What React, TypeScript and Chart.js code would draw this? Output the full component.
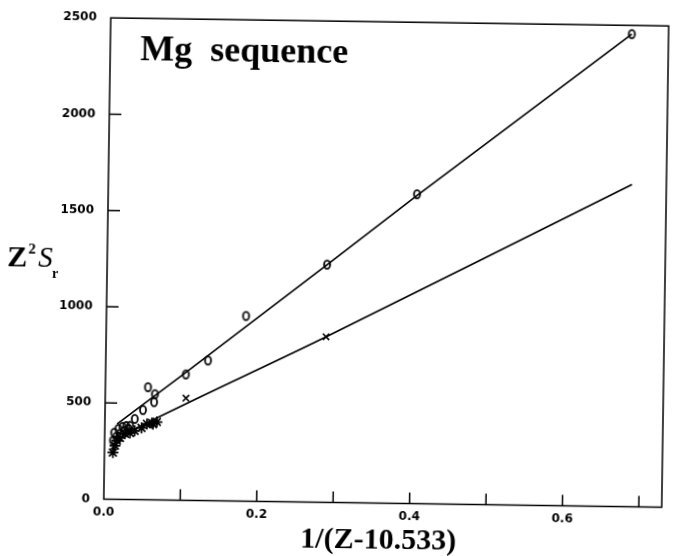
import React, { useEffect, useRef } from 'react';
import { Chart, registerables } from 'chart.js';
Chart.register(...registerables);

// "o" series (upper)
const upperOX = [0.011, 0.0124, 0.015, 0.0177, 0.02, 0.023, 0.0255, 0.028, 0.031, 0.033, 0.039, 0.0496, 0.0557, 0.064, 0.065, 0.105, 0.1337, 0.1826, 0.2877, 0.404, 0.682];
const upperOY = [305, 346, 325, 366, 341, 377, 356, 382, 366, 383, 419, 466, 585, 508, 549, 654, 728, 962, 1235, 1607, 2455];
// "x" series (lower) – isolated crosses
const lowerXX = [0.1056, 0.2877];
const lowerXY = [531, 860];
// lower series – dense asterisk cluster
const starX = [0.0111, 0.0136, 0.016, 0.02, 0.0265, 0.033, 0.039, 0.048, 0.055, 0.0615, 0.063, 0.068];
const starY = [243, 279, 305, 320, 341, 346, 357, 373, 394, 399, 394, 405];
// fitted lines
const upperLineX = [0.016, 0.105, 0.2877, 0.404, 0.682];
const upperLineY = [392, 664, 1234, 1600, 2455];
const lowerLineX = [0.012, 0.02, 0.035, 0.068, 0.167, 0.2877, 0.685];
const lowerLineY = [255, 315, 355, 426, 622, 860, 1674];
// axes
const xMin = 0;
const xMax = 0.73;
const xStep = 0.1;
const yMin = 0;
const yMax = 2500;
const yStep = 500;
const titleText = 'Mg  sequence';
const xAxisTitle = '1/(Z-10.533)';

const zip = (xs: number[], ys: number[]) => xs.map((x, i) => ({ x, y: ys[i] }));

function makeO(): HTMLCanvasElement {
  const c = document.createElement('canvas');
  c.width = 10;
  c.height = 12;
  const g = c.getContext('2d')!;
  g.strokeStyle = '#000';
  g.lineWidth = 1.8;
  g.beginPath();
  g.ellipse(5, 6, 3, 4.1, 0, 0, Math.PI * 2);
  g.stroke();
  return c;
}

const decorPlugin = {
  id: 'decor',
  afterDraw(chart: any) {
    const { ctx, chartArea: a, scales } = chart;
    ctx.save();
    ctx.strokeStyle = '#000';
    ctx.fillStyle = '#000';
    ctx.lineWidth = 1.5;
    ctx.strokeRect(a.left, a.top, a.right - a.left, a.bottom - a.top);
    // inward ticks
    ctx.beginPath();
    scales.x.ticks.forEach((t: any) => {
      if (t.value <= xMin + 1e-9 || t.value >= xMax - 1e-9) return;
      const px = scales.x.getPixelForValue(t.value);
      ctx.moveTo(px, a.bottom);
      ctx.lineTo(px, a.bottom - 11);
    });
    scales.y.ticks.forEach((t: any) => {
      if (t.value <= yMin || t.value >= yMax) return;
      const py = scales.y.getPixelForValue(t.value);
      ctx.moveTo(a.left, py);
      ctx.lineTo(a.left + 12, py);
    });
    ctx.stroke();
    // title
    ctx.textBaseline = 'alphabetic';
    ctx.textAlign = 'left';
    ctx.font = 'bold 36px "Liberation Serif"';
    ctx.fillText(titleText, a.left + 30, a.top + 42);
    // x axis title
    ctx.textAlign = 'center';
    ctx.font = 'bold 30px "Liberation Serif"';
    ctx.fillText(xAxisTitle, (a.left + a.right) / 2 - 4, 548);
    // y axis title Z^2 S_r
    ctx.textAlign = 'left';
    ctx.font = 'bold 30px "Liberation Serif"';
    ctx.fillText('Z', 7, 271);
    ctx.font = 'bold 15px "Liberation Serif"';
    ctx.fillText('2', 28, 258);
    ctx.font = 'italic 29px "Liberation Serif"';
    ctx.fillText('S', 38, 271);
    ctx.font = 'bold 14px "Liberation Serif"';
    ctx.fillText('r', 52, 282);
    ctx.restore();
  },
};

export default function App() {
  const ref = useRef<HTMLCanvasElement>(null);
  useEffect(() => {
    if (!ref.current) return;
    const oImg = makeO();
    const tickFont = { family: '"DejaVu Sans"', size: 12, weight: 'bold' as const };
    const chart = new Chart(ref.current, {
      type: 'scatter',
      data: {
        datasets: [
          {
            data: zip(upperLineX, upperLineY),
            showLine: true,
            borderColor: '#000',
            borderWidth: 1.6,
            pointRadius: 0,
            tension: 0,
          },
          {
            data: zip(lowerLineX, lowerLineY),
            showLine: true,
            borderColor: '#000',
            borderWidth: 1.6,
            pointRadius: 0,
            tension: 0.3,
          },
          {
            data: zip(upperOX, upperOY),
            pointStyle: oImg as any,
            pointRadius: 4,
            borderColor: '#000',
          },
          {
            data: zip(lowerXX, lowerXY),
            pointStyle: 'crossRot',
            pointRadius: 4.5,
            borderWidth: 1.6,
            borderColor: '#000',
          },
          {
            data: zip(starX, starY),
            pointStyle: 'star',
            pointRadius: 5.5,
            borderWidth: 1.7,
            borderColor: '#000',
          },
        ],
      },
      options: {
        animation: false,
        responsive: false,
        layout: { padding: { top: 16, right: 9, left: 0, bottom: 0 } },
        plugins: { legend: { display: false }, tooltip: { enabled: false } },
        scales: {
          x: {
            type: 'linear',
            min: xMin,
            max: xMax,
            grid: { display: false, drawTicks: false },
            border: { display: false },
            ticks: {
              stepSize: xStep,
              includeBounds: false,
              autoSkip: false,
              maxRotation: 0,
              padding: 6,
              color: '#000',
              font: tickFont,
              callback: (v: any) => {
                const r = Math.round(Number(v) * 10);
                return r % 2 === 0 ? (r / 10).toFixed(1) : '';
              },
            },
            afterFit: (s: any) => {
              s.height = 53.5;
            },
          },
          y: {
            type: 'linear',
            min: yMin,
            max: yMax,
            grid: { display: false, drawTicks: false },
            border: { display: false },
            ticks: {
              stepSize: yStep,
              padding: 14,
              color: '#000',
              font: tickFont,
              callback: (v: any) => String(Math.round(Number(v))),
            },
            afterFit: (s: any) => {
              s.width = 107;
            },
          },
        },
      },
      plugins: [decorPlugin],
    });
    return () => chart.destroy();
  }, []);
  return (
    <div style={{ position: 'fixed', left: 0, top: 0, width: 674, height: 556, background: '#fff' }}>
      <canvas
        ref={ref}
        width={674}
        height={556}
        style={{ display: 'block', transform: 'rotate(0.83deg)', transformOrigin: '337px 278px' }}
      />
    </div>
  );
}
